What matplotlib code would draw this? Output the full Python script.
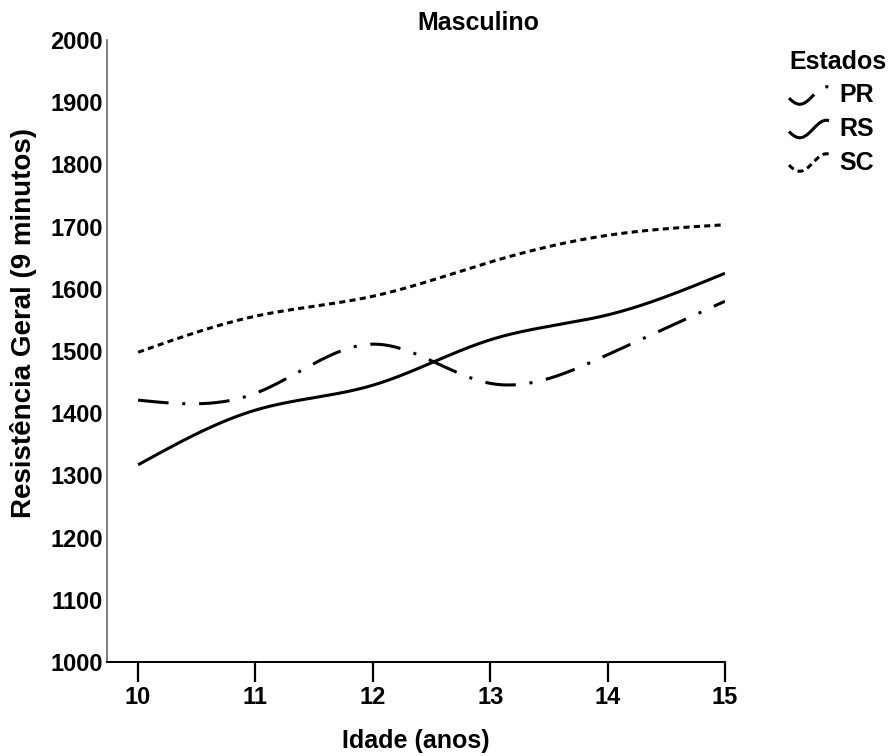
import numpy as np
import matplotlib
matplotlib.use("Agg")
import matplotlib.pyplot as plt
from matplotlib.lines import Line2D
from matplotlib.legend_handler import HandlerLine2D

plt.rcParams['font.family'] = ['Liberation Sans', 'DejaVu Sans']
plt.rcParams['font.weight'] = 'bold'

# dados
idade = [10, 11, 12, 13, 14, 15]
pr = [1421, 1432, 1511, 1448, 1494, 1580]
rs = [1317, 1405, 1445, 1518, 1558, 1625]
sc = [1498, 1556, 1588, 1643, 1686, 1703]
estados = ['PR', 'RS', 'SC']


# spline cúbica natural para desenhar a curva suave
def natural_spline(x, y, n=300):
    x = np.asarray(x, float)
    y = np.asarray(y, float)
    k = len(x)
    h = np.diff(x)
    A = np.zeros((k, k))
    b = np.zeros(k)
    A[0, 0] = A[-1, -1] = 1
    for i in range(1, k - 1):
        A[i, i - 1] = h[i - 1]
        A[i, i] = 2 * (h[i - 1] + h[i])
        A[i, i + 1] = h[i]
        b[i] = 3 * ((y[i + 1] - y[i]) / h[i] - (y[i] - y[i - 1]) / h[i - 1])
    c = np.linalg.solve(A, b)
    xs = np.linspace(x[0], x[-1], n)
    ys = np.empty_like(xs)
    for j, xv in enumerate(xs):
        i = min(np.searchsorted(x, xv, side='right') - 1, k - 2)
        bi = (y[i + 1] - y[i]) / h[i] - h[i] * (2 * c[i] + c[i + 1]) / 3
        di = (c[i + 1] - c[i]) / (3 * h[i])
        t = xv - x[i]
        ys[j] = y[i] + bi * t + c[i] * t ** 2 + di * t ** 3
    return xs, ys


# chave da legenda em forma de curva
class CurveHandler(HandlerLine2D):
    def create_artists(self, legend, orig_handle, xdescent, ydescent,
                       width, height, fontsize, trans):
        t = np.linspace(0, 1, 40)
        xd = -xdescent + t * width
        yd = -ydescent + height * (0.4 - 0.5 * np.sin(np.pi * 1.5 * t + 0.3))
        ln = Line2D(xd, yd)
        self.update_prop(ln, orig_handle, legend)
        ln.set_transform(trans)
        return [ln]


fig = plt.figure(figsize=(8.92, 7.56), dpi=100)
ax = fig.add_axes([107 / 892, 1 - 662 / 756, (725 - 107) / 892, (662 - 40) / 756])

estilos = [(0, (10, 4.5, 1, 4.5)), 'solid', (0, (2, 1.4))]
handles = []
for nome, vals, ls in zip(estados, [pr, rs, sc], estilos):
    xs, ys = natural_spline(idade, vals)
    ln, = ax.plot(xs, ys, color='black', lw=2.2, linestyle=ls, label=nome,
                  solid_capstyle='butt', dash_capstyle='butt')
    handles.append(ln)

ax.set_xlim(9.735, 15)
ax.set_ylim(1000, 2000)
ax.set_xticks(idade)
ax.set_yticks(range(1000, 2001, 100))
for s in ['top', 'right']:
    ax.spines[s].set_visible(False)
ax.spines['left'].set_color('#666666')
ax.spines['left'].set_linewidth(1.2)
ax.spines['bottom'].set_linewidth(1.4)
ax.tick_params(axis='x', length=14.5, width=1.6, labelsize=17, pad=3)
ax.tick_params(axis='y', length=0, labelsize=17, pad=3)

ax.set_xlabel('Idade (anos)', fontsize=18, fontweight='bold', labelpad=14)
ax.set_ylabel('Resistência Geral (9 minutos)', fontsize=20, fontweight='bold')
ax.yaxis.set_label_coords(-0.113, 0.545)
fig.text(478 / 892, 1 - 23 / 756, 'Masculino', ha='center', va='center',
         fontsize=18, fontweight='bold')

leg = fig.legend(handles=handles, labels=estados, title='Estados',
                 loc='upper left', bbox_to_anchor=(789 / 892, 1 - 50 / 756),
                 frameon=False, fontsize=18, title_fontsize=18,
                 handlelength=1.6, handletextpad=0.4, labelspacing=0.38,
                 borderpad=0, borderaxespad=0,
                 handler_map={Line2D: CurveHandler()})
leg.get_title().set_fontweight('bold')
leg._legend_box.align = 'left'

fig.savefig('out.png', dpi=100)
